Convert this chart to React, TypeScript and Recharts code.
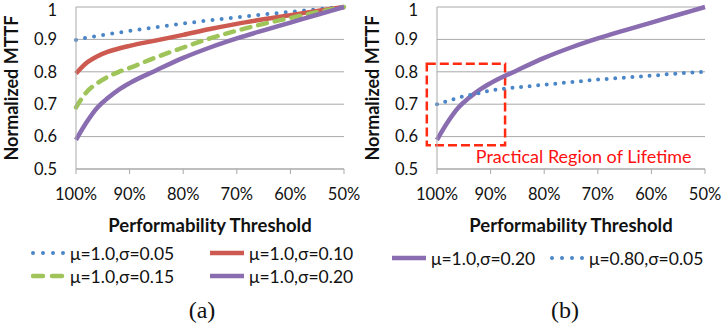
import React from "react";
import {
  LineChart,
  Line,
  XAxis,
  YAxis,
  CartesianGrid,
  ReferenceArea,
  Label,
} from "recharts";

// performability threshold (%)
const thresholds = [100, 98, 96, 94, 92, 90, 85, 80, 75, 70, 65, 60, 55, 50];
const xTicks = [100, 90, 80, 70, 60, 50];
const yTicks = [0.5, 0.6, 0.7, 0.8, 0.9, 1];

const mu10s005 = [0.898, 0.905, 0.911, 0.916, 0.921, 0.926, 0.938, 0.949, 0.959, 0.968, 0.977, 0.985, 0.993, 1.0];
const mu10s010 = [0.795, 0.828, 0.848, 0.862, 0.872, 0.88, 0.897, 0.914, 0.932, 0.948, 0.962, 0.975, 0.988, 1.0];
const mu10s015 = [0.69, 0.738, 0.765, 0.785, 0.8, 0.812, 0.845, 0.875, 0.903, 0.927, 0.948, 0.966, 0.984, 1.0];
const mu10s020 = [0.59, 0.645, 0.69, 0.72, 0.745, 0.765, 0.805, 0.843, 0.875, 0.903, 0.928, 0.952, 0.976, 1.0];
const mu08s005 = [0.7, 0.71, 0.72, 0.728, 0.735, 0.742, 0.752, 0.76, 0.768, 0.776, 0.782, 0.788, 0.795, 0.8];

// practical region box (threshold %, MTTF)
const regionX = [87.3, 101.9];
const regionY = [0.573, 0.825];

const rows = thresholds.map((t, i) => ({
  t,
  s005: mu10s005[i],
  s010: mu10s010[i],
  s015: mu10s015[i],
  s020: mu10s020[i],
  m08: mu08s005[i],
}));

const FONT = "Lato, 'Open Sans', sans-serif";
const GRID = "#a9a9a9";
const BLUE = "#4a86c7";
const RED = "#cc5a50";
const GREEN = "#9fc45a";
const PURPLE = "#8a6cb0";

type Style = { color: string; dash?: string; cap?: "round" | "butt"; width: number };

const styles: Record<string, Style> = {
  s005: { color: BLUE, dash: "0 9.2", cap: "round", width: 4 },
  s010: { color: RED, width: 4.5 },
  s015: { color: GREEN, dash: "9 8", cap: "round", width: 4.5 },
  s020: { color: PURPLE, width: 4.5 },
  m08: { color: BLUE, dash: "0 8.6", cap: "round", width: 4 },
};

const series = (key: string) => {
  const s = styles[key];
  return (
    <Line
      key={key}
      type="monotone"
      dataKey={key}
      stroke={s.color}
      strokeWidth={s.width}
      strokeDasharray={s.dash}
      strokeLinecap={s.cap || "butt"}
      dot={false}
      activeDot={false}
      isAnimationActive={false}
    />
  );
};

const RegionLabel = (props: any) => {
  const vb = props.viewBox;
  return (
    <text
      x={vb.x + 49}
      y={vb.y + vb.height + 18}
      fill="#ff1010"
      fontSize={18}
      fontFamily={FONT}
    >
      Practical Region of Lifetime
    </text>
  );
};

const Panel = ({ keys, region }: { keys: string[]; region?: boolean }) => (
  <LineChart
    width={361}
    height={235}
    data={rows}
    margin={{ top: 7, right: 17, left: 0, bottom: 0 }}
  >
    <CartesianGrid vertical={false} stroke={GRID} />
    <XAxis
      dataKey="t"
      type="number"
      domain={[50, 100]}
      reversed
      ticks={xTicks}
      tickFormatter={(v) => `${v}%`}
      tick={{ fill: "#111", fontSize: 16.5, fontFamily: FONT }}
      tickSize={5}
      tickMargin={14}
      stroke={GRID}
      height={66}
    >
      <Label
        value="Performability Threshold"
        position="insideBottom"
        offset={3}
        style={{ fontFamily: FONT, fontWeight: 700, fontSize: 18.5, fill: "#111" }}
      />
    </XAxis>
    <YAxis
      type="number"
      domain={[0.5, 1]}
      ticks={yTicks}
      width={76}
      tickLine={false}
      tickSize={0}
      tickMargin={19}
      tick={{ fill: "#111", fontSize: 16.5, fontFamily: FONT }}
      stroke={GRID}
    >
      <Label
        value="Normalized MTTF"
        angle={-90}
        position="insideLeft"
        offset={12}
        style={{ textAnchor: "middle", fontFamily: FONT, fontWeight: 700, fontSize: 18, fill: "#111" }}
      />
    </YAxis>
    {keys.map(series)}
    {region && (
      <ReferenceArea
        x1={regionX[0]}
        x2={regionX[1]}
        y1={regionY[0]}
        y2={regionY[1]}
        ifOverflow="visible"
        fill="none"
        fillOpacity={0}
        stroke="#ff2a10"
        strokeWidth={2.5}
        strokeDasharray="9 4"
        label={<RegionLabel />}
      />
    )}
  </LineChart>
);

const Sample = ({ k }: { k: string }) => {
  const s = styles[k];
  return (
    <svg width={36} height={10} style={{ display: "block" }}>
      <line
        x1={s.cap === "round" ? 2 : 0}
        y1={5}
        x2={34}
        y2={5}
        stroke={s.color}
        strokeWidth={s.width}
        strokeDasharray={s.dash ? (s.dash.startsWith("0") ? "0 10" : "10 9") : undefined}
        strokeLinecap={s.cap || "butt"}
      />
    </svg>
  );
};

const LegendItem = ({ k, name, x, y }: { k: string; name: string; x: number; y: number }) => (
  <div
    style={{
      position: "absolute",
      left: x,
      top: y - 11,
      height: 22,
      display: "flex",
      alignItems: "center",
      gap: 3,
      fontFamily: FONT,
      fontSize: 17.5,
      color: "#111",
      whiteSpace: "nowrap",
    }}
  >
    <Sample k={k} />
    <span>{name}</span>
  </div>
);

const Caption = ({ text, x }: { text: string; x: number }) => (
  <div
    style={{
      position: "absolute",
      left: x - 30,
      width: 60,
      top: 297,
      textAlign: "center",
      fontFamily: "'Liberation Serif', serif",
      fontSize: 24,
      color: "#111",
    }}
  >
    {text}
  </div>
);

export default function App() {
  return (
    <div style={{ position: "absolute", left: 0, top: 0, width: 722, height: 333, background: "#fff" }}>
      <div style={{ position: "absolute", left: 0, top: 0 }}>
        <Panel keys={["s005", "s010", "s015", "s020"]} />
      </div>
      <div style={{ position: "absolute", left: 361, top: 0 }}>
        <Panel keys={["s020", "m08"]} region />
      </div>
      <LegendItem k="s005" name="μ=1.0,σ=0.05" x={31} y={253} />
      <LegendItem k="s010" name="μ=1.0,σ=0.10" x={210} y={253} />
      <LegendItem k="s015" name="μ=1.0,σ=0.15" x={31} y={276} />
      <LegendItem k="s020" name="μ=1.0,σ=0.20" x={210} y={276} />
      <LegendItem k="s020" name="μ=1.0,σ=0.20" x={392} y={258} />
      <LegendItem k="m08" name="μ=0.80,σ=0.05" x={550} y={258} />
      <Caption text="(a)" x={202} />
      <Caption text="(b)" x={565} />
    </div>
  );
}
